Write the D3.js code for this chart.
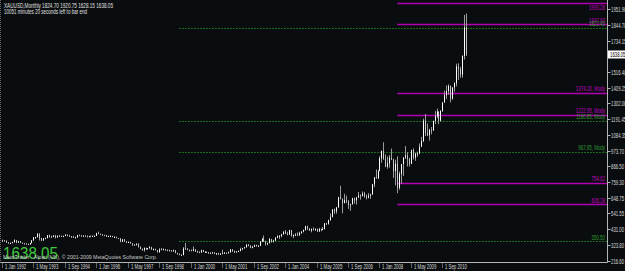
<!DOCTYPE html>
<html>
<head>
<meta charset="utf-8">
<script src="https://cdn.jsdelivr.net/npm/d3@7"></script>
<style>
  html, body { margin: 0; padding: 0; background: #0a0d0f; overflow: hidden; }
</style>
</head>
<body>
<div class="chart"></div>
<script>
// XAUUSD monthly bars, Jan 1992 .. Sep 2011
const open = [
  353,354,353,341,337,337,343,357,340,349,339,334,
  333,330,327,337,355,377,378,401,372,355,369,371,
  391,378,381,390,376,387,386,384,386,394,389,383,
  383,375,376,391,389,385,387,383,382,384,383,387,
  387,405,400,396,392,391,382,385,386,379,379,371,
  369,346,362,348,340,345,334,326,325,332,311,296,
  290,303,297,301,309,293,296,288,273,294,292,294,
  288,287,287,280,286,268,262,255,254,299,299,291,
  290,283,293,278,274,272,288,276,277,273,265,270,
  272,265,266,258,264,267,270,266,273,293,279,275,
  279,282,296,302,308,326,318,304,312,323,317,318,
  347,367,347,334,336,364,346,354,375,385,386,398,
  416,400,396,426,387,394,395,391,407,416,428,453,
  438,423,435,428,435,417,435,429,433,473,470,495,
  517,569,556,583,654,643,613,633,624,599,604,646,
  632,651,665,662,679,659,650,665,673,743,789,783,
  834,923,972,916,864,887,926,913,833,884,718,815,
  882,928,942,917,883,979,927,954,955,1001,1040,1182,
  1096,1081,1118,1113,1180,1213,1244,1181,1248,1307,1357,1385,
  1421,1333,1411,1439,1556,1536,1500,1628,1824.7
];
const high = [
  361,358,355,343,341,346,363,358,352,350,340,338,
  335,333,338,358,378,380,406,404,373,372,375,392,
  395,387,392,392,389,392,388,388,398,396,392,384,
  384,381,394,396,393,390,390,390,387,388,389,390,
  408,416,402,397,394,392,388,390,387,384,381,372,
  370,365,365,349,348,346,335,330,335,334,314,300,
  307,305,303,316,311,300,298,289,301,302,300,296,
  293,291,289,292,289,270,265,260,309,338,300,291,
  292,313,294,285,280,291,290,280,277,275,272,276,
  273,269,270,267,291,275,271,279,294,294,286,281,
  286,305,304,310,328,330,322,317,326,326,323,349,
  372,389,353,340,372,366,360,376,390,392,400,418,
  427,415,428,428,396,405,411,415,419,430,456,457,
  439,437,445,438,436,442,436,448,476,477,498,541,
  571,575,586,655,732,643,677,664,634,608,649,650,
  655,690,673,693,690,672,682,676,745,794,845,842,
  935,976,1033,948,935,944,989,919,912,935,830,883,
  928,1006,964,926,981,990,961,968,1024,1070,1195,1227,
  1162,1126,1138,1181,1249,1265,1245,1254,1308,1388,1424,1432,
  1424,1411,1447,1575,1577,1553,1632,1911,1920.75
];
const low = [
  349,350,339,333,334,336,342,336,339,337,332,331,
  328,326,326,336,353,366,376,355,350,354,366,370,
  375,376,377,369,374,382,380,378,385,384,381,376,
  372,371,375,388,382,383,382,380,381,381,382,383,
  386,399,394,389,388,380,381,384,377,378,370,366,
  343,344,346,337,338,333,318,318,320,306,293,283,
  278,290,292,299,290,286,286,272,272,288,290,284,
  283,282,278,278,267,257,253,252,253,294,288,278,
  280,280,276,271,270,271,274,270,268,263,263,267,
  262,255,255,255,263,264,263,265,271,278,270,271,
  276,281,288,299,306,315,302,300,310,313,313,317,
  345,345,320,322,335,340,341,351,370,365,377,396,
  399,391,393,381,371,385,386,387,399,410,422,426,
  420,411,424,420,414,414,418,427,432,462,464,491,
  515,538,540,581,638,542,611,611,573,560,604,609,
  603,648,636,659,650,638,645,642,670,722,781,780,
  834,891,912,861,850,857,909,786,735,681,705,747,
  800,916,865,865,882,913,904,932,950,1002,1034,1075,
  1075,1044,1088,1113,1158,1200,1157,1175,1242,1306,1330,1360,
  1309,1326,1381,1418,1462,1478,1478,1603,1628.15
];
const close = [
  354,353,341,337,337,343,357,340,349,339,334,333,
  330,327,337,355,377,378,401,372,355,369,371,391,
  378,381,390,376,387,386,384,386,394,389,383,383,
  375,376,391,389,385,387,383,382,384,383,387,387,
  405,400,396,392,391,382,385,386,379,379,371,369,
  346,362,348,340,345,334,326,325,332,311,296,290,
  303,297,301,309,293,296,288,273,294,292,294,288,
  287,287,280,286,268,262,255,254,299,299,291,290,
  283,293,278,274,272,288,276,277,273,265,270,272,
  265,266,258,264,267,270,266,273,293,279,275,279,
  282,296,302,308,326,318,304,312,323,317,318,347,
  367,347,334,336,364,346,354,375,385,386,398,416,
  400,396,426,387,394,395,391,407,416,428,453,438,
  423,435,428,435,417,435,429,433,473,470,495,517,
  569,556,583,654,643,613,633,624,599,604,646,632,
  651,665,662,679,659,650,665,673,743,789,783,834,
  923,972,916,864,887,926,913,833,884,718,815,882,
  928,942,917,883,979,927,954,955,1001,1040,1182,1096,
  1081,1118,1113,1180,1213,1244,1181,1248,1307,1357,1385,1421,
  1333,1411,1439,1556,1536,1500,1628,1824.7,1638.05
];

// price scale labels on the right
const priceTicks = [1951.90, 1844.70, 1734.15, 1516.40, 1409.25, 1302.00, 1191.45, 1084.35,
                    973.70, 866.50, 759.30, 648.75, 541.55, 431.00, 323.80, 216.60];
// date labels on the bottom
const dateTicks = ["1 Jan 1992", "1 May 1993", "1 Sep 1994", "1 Jan 1996", "1 May 1997", "1 Sep 1998",
                   "1 Jan 2000", "1 May 2001", "1 Sep 2002", "1 Jan 2004", "1 May 2005", "1 Sep 2006",
                   "1 Jan 2008", "1 May 2009", "1 Sep 2010"];

// drawn levels: price, kind, month where it starts, label
const levelPrice = [1993.26, 1847.63, 1822.40, 1374.20, 1222.95, 1180.85, 967.95, 754.62, 606.28, 350.50];
const levelKind  = ["fibo", "fibo", "base", "fibo", "fibo", "base", "base", "fibo", "fibo", "base"];
const levelFrom  = ["Oct 2008", "Oct 2008", "Jul 1999", "Oct 2008", "Oct 2008", "Jul 1999", "Jul 1999", "Oct 2008", "Oct 2008", "Jul 1999"];
const levelText  = ["1993.26", "1847.63", "1822.40", "1374.20, Mody", "1222.95, Mody", "1180.85, Mody",
                    "967.95, Mody", "754.62", "606.28", "350.50"];

const lastPrice = 1638.05;
const header1 = "XAUUSD,Monthly  1824.70 1920.75 1628.15 1638.05";
const header2 = "10051 minutes 20 seconds left to bar end";
const copyright = "MetaTrader - Alpari (UK), \u00a9 2001-2009 MetaQuotes Software Corp.";

const width = 625, height = 271;
const axisX = 607.5, axisY = 262.5;
const monNames = ["Jan","Feb","Mar","Apr","May","Jun","Jul","Aug","Sep","Oct","Nov","Dec"];

const months = [];
for (let yr = 1992; months.length < close.length; yr++)
  for (let m = 0; m < 12 && months.length < close.length; m++) months.push(monNames[m] + " " + yr);

const bars = months.map((k, i) => ({key: k, i, o: open[i], h: high[i], l: low[i], c: close[i]}));

const x = d3.scaleLinear().domain([0, months.length - 1]).range([2, 466]);
const y = d3.scaleLinear().domain([216.6, 1951.9]).range([260.5, 9]);
const fmt = d3.format(".2f");
const px = i => Math.round(x(i)) + 0.5;

const svg = d3.select(".chart")
  .append("svg")
  .attr("width", width)
  .attr("height", height)
  .style("display", "block")
  .style("font-family", "'Liberation Sans', Arial, sans-serif");

svg.append("rect").attr("width", width).attr("height", height).attr("fill", "#0a0d0f");

// levels
const colors = {fibo: "#b000b0", base: "#1c6a1c"};
const levels = levelPrice.map((p, i) => ({p, kind: levelKind[i], from: months.indexOf(levelFrom[i]), text: levelText[i]}));

svg.selectAll("line.level")
  .data(levels)
  .enter()
  .append("line")
  .attr("class", "level")
  .attr("x1", d => x(d.from))
  .attr("x2", axisX)
  .attr("y1", d => Math.round(y(d.p)) + 0.5)
  .attr("y2", d => Math.round(y(d.p)) + 0.5)
  .attr("stroke", d => colors[d.kind])
  .attr("stroke-width", d => d.kind == "fibo" ? 1.3 : 1)
  .attr("stroke-dasharray", d => d.kind == "fibo" ? null : "2,1");

// squeezed little text, like the downscaled screenshot
function tiny(g, tx, ty, txt, size, sx, color, anchor) {
  return g.append("text")
    .attr("transform", `translate(${tx},${ty}) scale(${sx},1)`)
    .attr("text-anchor", anchor || "start")
    .attr("font-size", size)
    .attr("fill", color)
    .text(txt);
}

levels.forEach(d => {
  // a label that would fall off the top goes under its line
  const ty = y(d.p) - 1.5 < 6 ? y(d.p) + 6.5 : y(d.p) - 1.5;
  tiny(svg, 605, ty, d.text, 6.5, 0.68, d.kind == "fibo" ? "#c000c0" : "#2e9a2e", "end");
});

// candles
const g = svg.append("g").attr("class", "bars");
g.selectAll("line.wick")
  .data(bars)
  .enter()
  .append("line")
  .attr("class", "wick")
  .attr("x1", d => px(d.i))
  .attr("x2", d => px(d.i))
  .attr("y1", d => y(d.h))
  .attr("y2", d => y(d.l))
  .attr("stroke", "#9a9a9a")
  .attr("stroke-width", 1);

g.selectAll("rect.body")
  .data(bars)
  .enter()
  .append("rect")
  .attr("class", "body")
  .attr("x", d => px(d.i) - 0.5)
  .attr("width", 1)
  .attr("y", d => y(Math.max(d.o, d.c)))
  .attr("height", d => Math.max(1, Math.abs(y(d.o) - y(d.c))))
  .attr("fill", d => d.c >= d.o ? "#ffffff" : "#c8c8c8");

// frame
svg.append("line").attr("x1", axisX).attr("x2", axisX).attr("y1", 0).attr("y2", axisY)
  .attr("stroke", "#b4b4b4");
svg.append("line").attr("x1", 0).attr("x2", axisX).attr("y1", axisY).attr("y2", axisY)
  .attr("stroke", "#b4b4b4");
svg.append("line").attr("x1", 0.5).attr("x2", 0.5).attr("y1", 0).attr("y2", axisY)
  .attr("stroke", "#6a6a6a").attr("stroke-dasharray", "1,1");

// price axis
priceTicks.forEach(p => {
  const ty = Math.round(y(p)) + 0.5;
  svg.append("line").attr("x1", axisX).attr("x2", axisX + 3).attr("y1", ty).attr("y2", ty).attr("stroke", "#b4b4b4");
  tiny(svg, 611, ty + 2.3, fmt(p), 6.5, 0.66, "#d8d8d8");
});
const ly = y(lastPrice);
svg.append("rect").attr("x", 608).attr("y", ly - 4).attr("width", 17).attr("height", 8).attr("fill", "#ffffff");
tiny(svg, 610, ly + 2.3, fmt(lastPrice), 6.5, 0.66, "#000000");

// date axis
dateTicks.forEach(t => {
  const i = months.indexOf(t.slice(2));
  const tx = px(i);
  svg.append("line").attr("x1", tx).attr("x2", tx).attr("y1", axisY).attr("y2", 268)
    .attr("stroke", "#b4b4b4").attr("stroke-dasharray", "1,1");
  tiny(svg, tx + 2.5, 269, t, 6.5, 0.66, "#d8d8d8");
});

// texts
svg.append("text").attr("x", 4).attr("y", 7.5).attr("font-size", 6.5).attr("fill", "#e0e0e0")
  .attr("textLength", 109).attr("lengthAdjust", "spacingAndGlyphs").text(header1);
svg.append("text").attr("x", 4).attr("y", 14).attr("font-size", 6.5).attr("fill", "#e0e0e0")
  .attr("textLength", 83).attr("lengthAdjust", "spacingAndGlyphs").text(header2);
svg.append("text").attr("x", 3).attr("y", 258.5).attr("font-size", 17).attr("fill", "#3cc83c")
  .attr("textLength", 55).attr("lengthAdjust", "spacingAndGlyphs").text(fmt(lastPrice));
svg.append("text").attr("x", 3).attr("y", 258.5).attr("font-size", 6).attr("fill", "#c8c8c8")
  .attr("textLength", 154).attr("lengthAdjust", "spacingAndGlyphs").text(copyright);
</script>
</body>
</html>
